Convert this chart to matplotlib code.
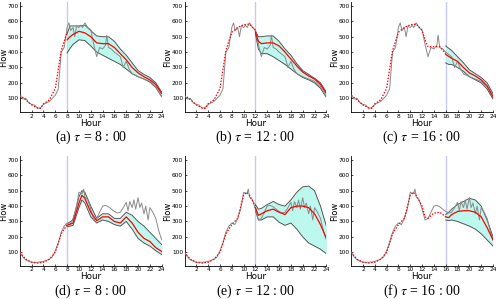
import matplotlib.pyplot as plt
import numpy as np

plt.rcParams["mathtext.fontset"] = "stix"

# ---- top row (one day of flow) ----
top_actual_h = [0, 0.5, 1, 1.5, 2, 2.5, 3, 3.5, 4, 5, 6, 6.5, 7, 7.5, 8, 8.3, 8.6, 9, 9.3, 9.6,
                10, 10.3, 10.6, 11, 11.5, 12, 12.5, 13, 13.5, 14, 14.5, 14.7, 15, 15.5, 16, 17,
                17.5, 18, 18.5, 19, 20, 21, 22, 23, 24]
top_actual_v = [120, 95, 100, 70, 60, 55, 35, 40, 60, 80, 120, 160, 400, 430, 560, 590, 540, 560, 500, 570,
                560, 575, 560, 590, 560, 545, 450, 370, 430, 420, 445, 510, 430, 420, 400, 370,
                300, 340, 290, 260, 240, 225, 210, 175, 110]
top_hist_h = [0, 1, 2, 3, 3.5, 4, 5, 6, 7, 8, 9, 10, 11, 12, 12.5, 13, 14, 15, 16]
top_hist_v = [121, 90, 57, 36, 34, 64, 90, 164, 410, 529, 560, 578, 582, 540, 480, 435, 435, 435, 390]

# ---- bottom row ----
bot_actual_h = [0, 0.5, 1, 2, 3, 4, 5, 5.5, 6, 6.5, 7, 7.5, 8, 8.5, 9, 9.5, 10, 10.5, 10.8, 11, 11.5, 12,
                12.5, 13, 13.5, 14, 14.5, 15, 16, 16.5, 17, 17.5, 18, 18.3, 18.6, 19, 19.3, 19.6, 20,
                20.3, 20.6, 21, 21.3, 21.7, 22, 22.5, 23, 23.5, 24]
bot_actual_v = [100, 70, 50, 35, 35, 40, 55, 70, 110, 160, 230, 270, 290, 280, 320, 380, 490, 480, 510, 460, 440, 380,
                310, 320, 360, 400, 405, 395, 365, 355, 360, 390, 425, 370, 430, 390, 440, 380, 455,
                390, 420, 350, 400, 310, 390, 360, 320, 240, 180]
bot_hist_h = [0, 1, 2, 3, 4, 5, 6, 7, 8, 9, 10, 10.5, 11, 12, 12.5, 13, 14, 15, 16]
bot_hist_v = [100, 55, 35, 30, 35, 55, 100, 220, 280, 320, 470, 490, 470, 400, 330, 320, 355, 360, 330]

# ---- forecasts: hours, mean, upper, lower ----
fc_a_h = [8, 8.5, 9, 10, 11, 12, 13, 14, 15, 16, 17, 18, 19, 20, 21, 22, 23, 24]
fc_a_mean = [480, 500, 515, 535, 525, 500, 460, 455, 455, 430, 390, 350, 300, 265, 240, 220, 190, 130]
fc_a_up = [520, 570, 570, 570, 575, 540, 505, 500, 500, 470, 420, 380, 330, 280, 255, 235, 200, 140]
fc_a_lo = [395, 425, 450, 480, 475, 440, 400, 380, 360, 340, 320, 290, 260, 240, 225, 205, 170, 110]

fc_b_h = [12, 12.5, 13, 14, 15, 16, 17, 18, 19, 20, 21, 22, 23, 24]
fc_b_mean = [530, 470, 455, 460, 460, 440, 400, 355, 310, 270, 245, 225, 190, 130]
fc_b_up = [535, 500, 500, 505, 505, 470, 420, 380, 325, 280, 255, 230, 200, 140]
fc_b_lo = [520, 420, 390, 390, 370, 345, 320, 290, 260, 235, 220, 200, 165, 105]

fc_c_h = [16, 16.5, 17, 18, 19, 20, 21, 22, 23, 24]
fc_c_mean = [385, 372, 360, 340, 300, 265, 245, 220, 180, 110]
fc_c_up = [440, 425, 410, 370, 330, 285, 260, 235, 200, 130]
fc_c_lo = [330, 320, 320, 300, 275, 240, 220, 200, 160, 95]

fc_d_h = [8, 9, 10, 10.5, 11, 12, 13, 14, 15, 16, 17, 18, 19, 20, 21, 22, 23, 24]
fc_d_mean = [275, 290, 420, 470, 450, 360, 305, 330, 330, 300, 290, 330, 290, 230, 190, 170, 130, 105]
fc_d_up = [285, 310, 460, 500, 490, 400, 320, 350, 350, 320, 320, 360, 340, 300, 270, 230, 190, 150]
fc_d_lo = [265, 275, 390, 440, 420, 330, 290, 310, 300, 280, 270, 300, 250, 190, 160, 140, 110, 85]

fc_e_h = [12, 12.5, 13, 14, 15, 16, 17, 18, 19, 20, 21, 22, 23, 24]
fc_e_mean = [390, 340, 350, 370, 380, 360, 345, 390, 400, 400, 390, 350, 280, 190]
fc_e_up = [410, 380, 385, 410, 430, 410, 400, 440, 490, 525, 530, 500, 400, 270]
fc_e_lo = [370, 310, 310, 330, 330, 295, 275, 290, 250, 200, 160, 140, 120, 90]

fc_f_h = [16, 16.5, 17, 18, 19, 20, 21, 22, 23, 24]
fc_f_mean = [330, 325, 345, 365, 370, 370, 360, 330, 260, 180]
fc_f_up = [345, 360, 380, 410, 430, 450, 440, 400, 310, 200]
fc_f_lo = [310, 305, 310, 300, 285, 270, 250, 220, 180, 140]

captions = ["(a) $\\tau$ = 8 : 00", "(b) $\\tau$ = 12 : 00", "(c) $\\tau$ = 16 : 00",
            "(d) $\\tau$ = 8 : 00", "(e) $\\tau$ = 12 : 00", "(f) $\\tau$ = 16 : 00"]

panels = [
    (top_actual_h, top_actual_v, top_hist_h, top_hist_v, 8, fc_a_h, fc_a_mean, fc_a_up, fc_a_lo),
    (top_actual_h, top_actual_v, top_hist_h, top_hist_v, 12, fc_b_h, fc_b_mean, fc_b_up, fc_b_lo),
    (top_actual_h, top_actual_v, top_hist_h, top_hist_v, 16, fc_c_h, fc_c_mean, fc_c_up, fc_c_lo),
    (bot_actual_h, bot_actual_v, bot_hist_h, bot_hist_v, 8, fc_d_h, fc_d_mean, fc_d_up, fc_d_lo),
    (bot_actual_h, bot_actual_v, bot_hist_h, bot_hist_v, 12, fc_e_h, fc_e_mean, fc_e_up, fc_e_lo),
    (bot_actual_h, bot_actual_v, bot_hist_h, bot_hist_v, 16, fc_f_h, fc_f_mean, fc_f_up, fc_f_lo),
]

fig = plt.figure(figsize=(4.96, 2.99), dpi=100)
lefts = [0.040, 0.372, 0.708]
bottoms = [0.625, 0.110]
caption_y = [0.542, 0.027]

for i, (ah, av, hh, hv, tau, fh, fm, fu, fl) in enumerate(panels):
    row, col = divmod(i, 3)
    ax = fig.add_axes([lefts[col], bottoms[row], 0.286, 0.368])

    ax.axvline(tau, color="#c8c8f4", lw=1.0, zorder=1)
    ax.fill_between(fh, fl, fu, color="#bdf8ee", lw=0, zorder=2)
    ax.plot(fh, fu, color="#555555", lw=0.7, zorder=3)
    ax.plot(fh, fl, color="#555555", lw=0.7, zorder=3)
    ax.plot(ah, av, color="#8a8a8a", lw=0.7, zorder=4)
    hh = np.asarray(hh)
    keep = hh <= tau
    ax.plot(hh[keep], np.asarray(hv)[keep], color="red", lw=0.9,
            linestyle=(0, (1.2, 1.2)), zorder=5)
    ax.plot(fh, fm, color="red", lw=0.9, zorder=5)

    ax.set_xlim(0, 24)
    ax.set_ylim(10, 725)
    ax.set_xticks(range(2, 25, 2))
    ax.set_yticks(range(100, 701, 100))
    ax.tick_params(labelsize=4.2, length=1.5, width=0.5, direction="in", pad=1)
    for s in ("top", "right"):
        ax.spines[s].set_visible(False)
    for s in ("left", "bottom"):
        ax.spines[s].set_linewidth(0.6)
    ax.set_ylabel("Flow", fontsize=6)
    ax.yaxis.set_label_coords(-0.085, 0.5)
    ax.set_xlabel("Hour", fontsize=6.3, labelpad=0)
    fig.text(lefts[col] + 0.143, caption_y[row], captions[i], ha="center", va="center",
             fontsize=10, family="Liberation Serif")

fig.savefig("out.png", dpi=100)
